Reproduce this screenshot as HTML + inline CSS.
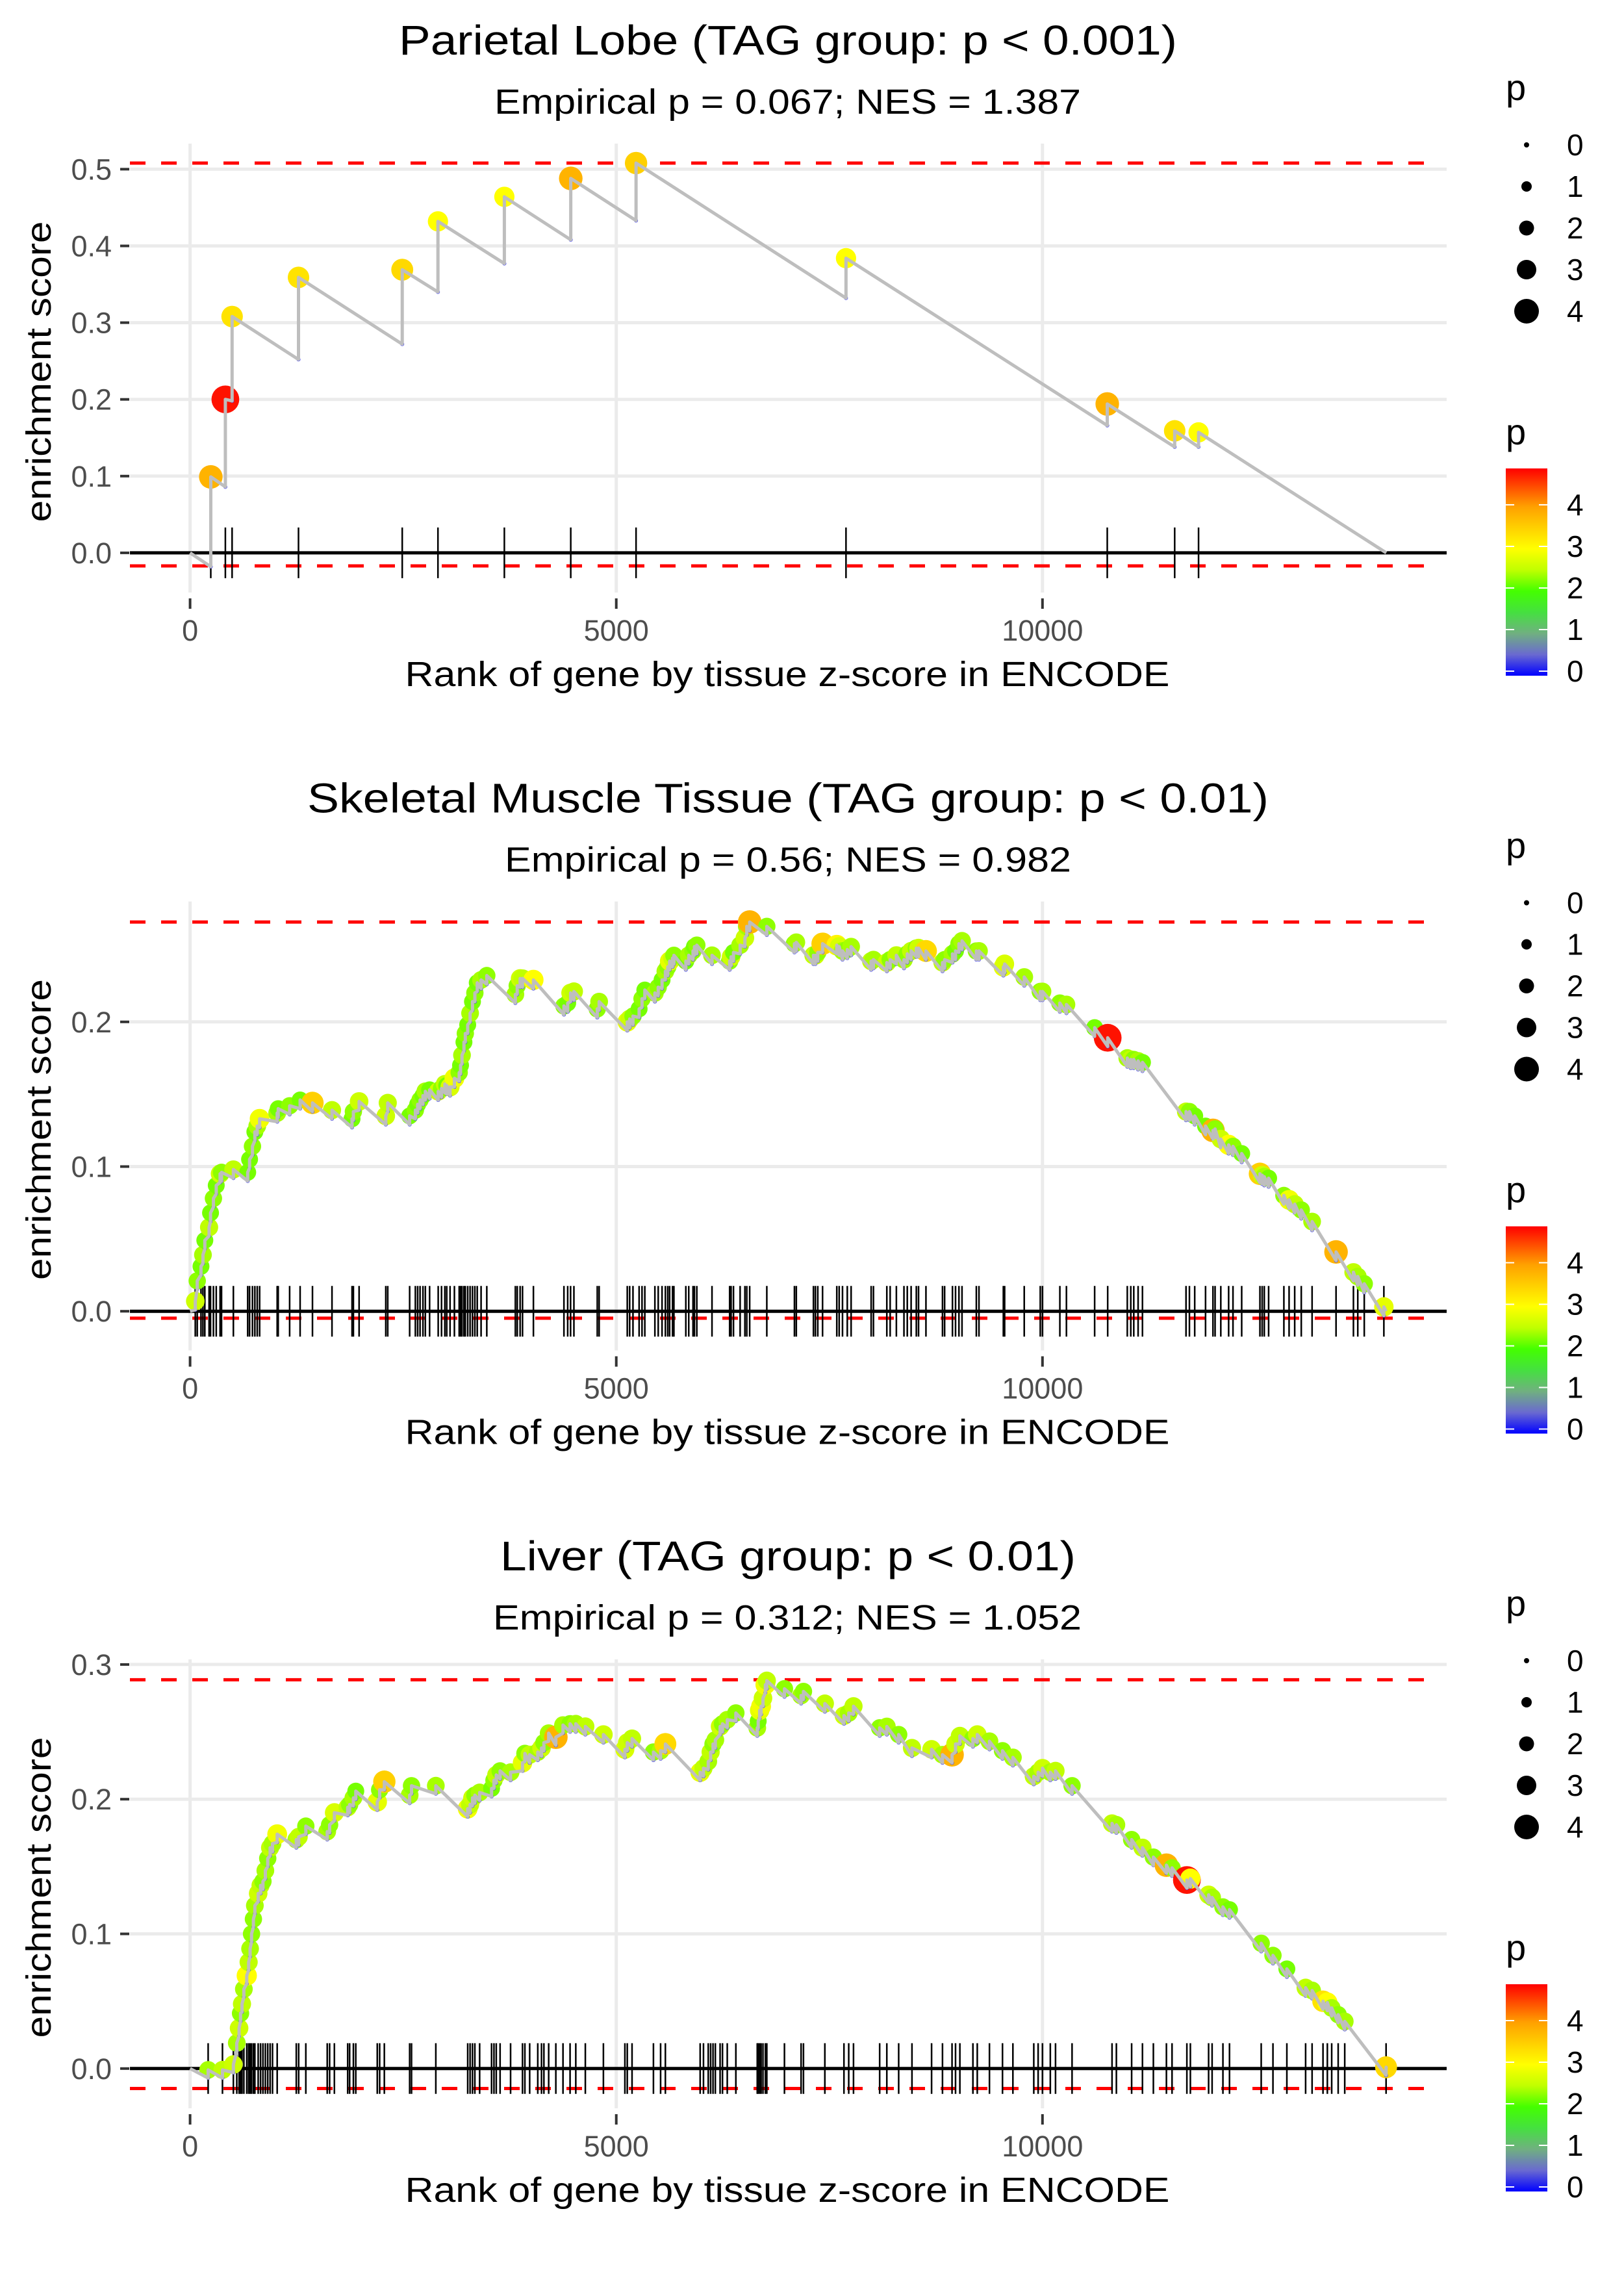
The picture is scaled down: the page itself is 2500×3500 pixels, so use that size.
<!DOCTYPE html>
<html><head><meta charset="utf-8">
<style>
html,body{margin:0;padding:0;background:#fff;}
svg{display:block;font-family:"Liberation Sans",sans-serif;}
</style></head>
<body>
<svg id="chart" xmlns="http://www.w3.org/2000/svg" width="2500" height="3500" viewBox="0 0 2500 3500">
<defs>
<linearGradient id="pgrad" x1="0" y1="1" x2="0" y2="0">
<stop offset="0" stop-color="#0000ff"/>
<stop offset="0.102" stop-color="#6a6ad0"/>
<stop offset="0.204" stop-color="#70b080"/>
<stop offset="0.306" stop-color="#45e040"/>
<stop offset="0.408" stop-color="#44ff00"/>
<stop offset="0.51" stop-color="#c0ff00"/>
<stop offset="0.612" stop-color="#ffff00"/>
<stop offset="0.714" stop-color="#ffd000"/>
<stop offset="0.816" stop-color="#ffa000"/>
<stop offset="1" stop-color="#ff0000"/>
</linearGradient>
</defs>
</svg>
<script>
// ---------- data ----------
const panelTitles = ["Parietal Lobe (TAG group: p < 0.001)","Skeletal Muscle Tissue (TAG group: p < 0.01)","Liver (TAG group: p < 0.01)"];
const panelSubtitles = ["Empirical p = 0.067; NES = 1.387","Empirical p = 0.56; NES = 0.982","Empirical p = 0.312; NES = 1.052"];
const xTicks = [0,5000,10000];
const xTickLabels = ["0","5000","10000"];
const yTicks1 = [0,0.1,0.2,0.3,0.4,0.5];
const yTicks2 = [0,0.1,0.2];
const yTicks3 = [0,0.1,0.2,0.3];
const esMax = [0.508,0.269,0.2887];
const esMin = [-0.017,-0.0048,-0.0148];
const nGenes = [14033,14030,14035];
const legendValues = [0,1,2,3,4];

const p1Rank=[243,414,493,1272,2489,2908,3687,4466,5232,7695,10760,11551,11831];
const p1Peak=[0.099,0.200,0.308,0.359,0.369,0.432,0.464,0.488,0.508,0.384,0.194,0.159,0.157];
const p1Pre=[-0.018,0.086,0.198,0.252,0.272,0.340,0.377,0.408,0.433,0.332,0.166,0.138,0.138];
const p1P=[3.8,4.8,3.3,3.3,3.4,3.0,3.0,3.8,3.5,3.0,3.8,3.3,3.0];

const p2Rank=[61,84,128,151,173,223,240,274,307,352,369,508,676,698,732,760,788,816,1022,1034,1168,1291,1436,1665,1900,1916,1983,2296,2319,2576,2643,2670,2698,2732,2760,2810,2911,2950,2989,3011,3050,3101,3157,3173,3190,3213,3229,3257,3285,3313,3341,3369,3414,3481,3816,3838,3872,3900,4028,4386,4430,4464,4503,4777,4799,5129,5157,5196,5268,5302,5335,5453,5492,5537,5576,5604,5626,5660,5676,5816,5850,5900,5917,5945,6123,6330,6347,6375,6453,6509,6531,6565,6766,7090,7112,7313,7336,7364,7420,7587,7615,7654,7710,7755,7990,8017,8174,8213,8286,8375,8414,8459,8520,8546,8633,8827,8852,8944,8980,9020,9056,9224,9255,9541,9556,9786,9974,10000,10204,10281,10612,10765,10995,11036,11071,11122,11173,11684,11724,11786,11913,12000,12025,12092,12184,12235,12337,12551,12577,12602,12653,12832,12893,12959,13036,13163,13444,13648,13699,13775,14005];
const p2Es=[0.007,0.021,0.031,0.039,0.049,0.058,0.068,0.078,0.087,0.095,0.096,0.098,0.096,0.105,0.114,0.124,0.128,0.133,0.137,0.140,0.142,0.146,0.144,0.139,0.133,0.138,0.145,0.135,0.144,0.135,0.139,0.143,0.146,0.149,0.152,0.153,0.152,0.154,0.157,0.156,0.155,0.161,0.165,0.170,0.177,0.186,0.192,0.198,0.206,0.214,0.220,0.227,0.229,0.232,0.219,0.225,0.230,0.230,0.229,0.211,0.213,0.220,0.221,0.209,0.214,0.200,0.202,0.204,0.209,0.216,0.222,0.220,0.224,0.229,0.235,0.238,0.242,0.244,0.246,0.242,0.246,0.249,0.252,0.253,0.246,0.242,0.245,0.248,0.253,0.258,0.266,0.269,0.266,0.254,0.255,0.246,0.246,0.248,0.254,0.253,0.252,0.249,0.250,0.252,0.242,0.243,0.241,0.243,0.246,0.243,0.247,0.249,0.251,0.251,0.249,0.241,0.243,0.247,0.249,0.254,0.256,0.249,0.249,0.238,0.240,0.231,0.221,0.221,0.213,0.212,0.196,0.189,0.175,0.174,0.174,0.173,0.172,0.138,0.138,0.135,0.128,0.125,0.126,0.119,0.115,0.114,0.109,0.095,0.094,0.093,0.092,0.080,0.077,0.074,0.070,0.062,0.041,0.027,0.024,0.019,0.003];
const p2P=[2.6,2.3,2.2,2.4,2.2,2.5,2.2,2.3,2.2,2.6,2.3,2.5,2.2,2.2,2.3,2.2,2.4,2.9,2.4,2.2,2.3,2.2,3.5,2.5,2.2,2.3,2.6,2.6,2.5,2.2,2.3,2.2,2.3,2.2,2.4,2.2,2.6,2.3,2.5,2.2,2.7,2.9,2.3,2.2,2.4,2.2,2.3,2.2,2.4,2.2,2.3,2.2,2.4,2.3,2.4,2.3,2.6,2.5,3.0,2.3,2.2,2.6,2.5,2.3,2.4,2.8,2.6,2.3,2.2,2.3,2.2,2.4,2.3,2.2,2.4,2.3,2.8,2.6,2.3,2.2,2.4,2.3,2.2,2.3,2.4,2.3,2.6,2.2,2.4,2.6,2.4,3.8,2.3,2.3,2.4,2.5,2.6,2.3,3.5,3.1,2.7,2.4,2.3,2.4,2.5,2.4,2.6,2.3,2.5,2.4,2.3,2.5,2.3,2.6,3.4,2.5,2.3,2.4,2.2,2.3,2.4,2.3,2.4,2.8,2.7,2.4,2.3,2.4,2.3,2.4,2.2,4.8,2.4,2.5,2.3,2.4,2.2,2.5,2.3,2.2,2.2,3.8,2.3,2.6,3.0,2.3,2.2,3.5,2.6,2.4,2.2,2.3,2.9,2.5,2.3,2.4,3.8,2.5,2.4,2.3,2.8];

const p3Rank=[212,380,508,548,575,592,609,631,665,687,704,721,743,760,799,827,855,883,911,939,967,1022,1246,1274,1358,1609,1637,1693,1849,1872,1916,1944,2196,2224,2279,2576,2598,2883,3257,3285,3313,3341,3397,3537,3565,3592,3637,3760,3900,3928,3984,4079,4123,4151,4207,4291,4375,4458,4525,4637,4849,5101,5129,5185,5436,5520,5576,5984,6023,6079,6107,6135,6162,6218,6246,6302,6403,6654,6665,6682,6699,6721,6749,6766,6973,7168,7196,7447,7671,7727,7783,8090,8174,8313,8469,8699,8827,8939,8980,9031,9184,9235,9378,9531,9653,9898,9949,10000,10092,10153,10347,10816,10867,11046,11173,11301,11454,11520,11694,11735,11949,11990,12117,12194,12566,12704,12867,13087,13163,13291,13342,13393,13469,13546,14031];
const p3Es=[-0.001,-0.001,0.003,0.019,0.030,0.041,0.048,0.059,0.069,0.079,0.089,0.100,0.111,0.121,0.130,0.136,0.139,0.147,0.156,0.164,0.167,0.174,0.170,0.172,0.180,0.176,0.181,0.190,0.194,0.196,0.201,0.206,0.198,0.207,0.213,0.203,0.210,0.210,0.193,0.196,0.201,0.203,0.205,0.208,0.214,0.218,0.221,0.220,0.227,0.234,0.233,0.235,0.238,0.242,0.249,0.246,0.255,0.256,0.256,0.254,0.248,0.237,0.242,0.245,0.235,0.236,0.241,0.220,0.223,0.228,0.235,0.241,0.244,0.254,0.256,0.259,0.264,0.253,0.258,0.266,0.269,0.275,0.285,0.288,0.282,0.277,0.280,0.271,0.262,0.264,0.269,0.253,0.254,0.248,0.238,0.237,0.233,0.233,0.241,0.247,0.245,0.248,0.243,0.236,0.231,0.217,0.220,0.223,0.220,0.221,0.210,0.182,0.181,0.170,0.164,0.157,0.151,0.149,0.140,0.141,0.129,0.127,0.120,0.118,0.093,0.084,0.074,0.060,0.058,0.050,0.049,0.045,0.040,0.035,0.001];
const p3P=[2.4,2.5,2.6,2.4,2.6,2.3,2.5,2.4,3.0,2.5,2.4,2.3,2.3,2.4,2.6,2.5,2.3,2.4,2.3,2.5,2.4,2.9,2.4,2.5,2.3,2.4,2.3,2.7,2.5,2.3,2.4,2.2,2.8,2.3,3.5,2.4,2.3,2.4,2.9,2.5,2.6,2.3,2.4,2.2,2.3,2.5,2.3,2.4,2.8,2.3,2.5,2.4,2.6,2.3,2.4,3.8,2.4,2.3,2.4,2.5,2.6,2.7,2.6,2.5,2.3,2.4,3.4,2.8,2.5,2.4,2.5,2.3,2.4,2.6,2.3,2.4,2.3,2.4,2.2,2.8,2.9,2.6,2.9,2.5,2.3,2.4,2.3,2.5,2.6,2.4,2.5,2.3,2.4,2.3,2.5,2.6,2.4,3.8,2.6,2.5,2.3,2.6,2.4,2.3,2.4,2.5,2.4,2.6,2.4,2.5,2.3,2.5,2.4,2.3,2.5,2.3,3.8,2.3,4.8,3.0,2.6,2.4,2.3,2.2,2.3,2.3,2.2,2.5,2.4,3.3,3.0,2.4,2.3,2.4,3.4];

// ---------- rendering ----------
const NS='http://www.w3.org/2000/svg';
const svg=document.getElementById('chart');
function mk(tag,attrs,parent){const e=document.createElementNS(NS,tag);for(const k in attrs)e.setAttribute(k,attrs[k]);(parent||svg).appendChild(e);return e;}
const STOPS=[[0,[0,0,255]],[0.5,[106,106,208]],[1,[112,176,128]],[1.5,[69,224,64]],[2,[68,255,0]],[2.5,[192,255,0]],[3,[255,255,0]],[3.5,[255,208,0]],[4,[255,160,0]],[4.9,[255,0,0]]];
function pColor(p){
  if(p<=0)return 'rgb(0,0,255)';
  for(let i=1;i<STOPS.length;i++){if(p<=STOPS[i][0]){const a=STOPS[i-1],b=STOPS[i];const t=(p-a[0])/(b[0]-a[0]);const c=a[1].map((v,j)=>Math.round(v+(b[1][j]-v)*t));return 'rgb('+c.join(',')+')';}}
  return 'rgb(255,0,0)';
}
function pRadius(p){return 6+3.2*p;}
const X0=292.6, XS=0.13122, PL=200, PR=2227;
function xScale(r){return X0+r*XS;}
const panelCfg=[{oy:0,y0:850.9,s:1181,ticks:yTicks1},{oy:1166.5,y0:851.7,s:2227,ticks:yTicks2},{oy:2333,y0:850.8,s:2073,ticks:yTicks3}];
const ranks=[p1Rank,p2Rank,p3Rank], peaks=[p1Peak,p2Es,p3Es], pvals=[p1P,p2P,p3P];
const JUMP=0.006;
const titleW=[[614,1812],[473,1953],[770,1656]];
const subW=[[761,1664],[777,1649],[759,1665]];

panelCfg.forEach((cfg,pi)=>{
  const g=mk('g',{});
  
  
  const oy=cfg.oy;
  const yS=v=>oy+cfg.y0-v*cfg.s;
  const t=mk('text',{x:(titleW[pi][0]+titleW[pi][1])/2,y:oy+84,'text-anchor':'middle','font-size':64,fill:'#000',textLength:titleW[pi][1]-titleW[pi][0],lengthAdjust:'spacingAndGlyphs'},g);
  t.textContent=panelTitles[pi];
  
  
  const st=mk('text',{x:(subW[pi][0]+subW[pi][1])/2,y:oy+175,'text-anchor':'middle','font-size':54,fill:'#000',textLength:subW[pi][1]-subW[pi][0],lengthAdjust:'spacingAndGlyphs'},g);
  st.textContent=panelSubtitles[pi];
  
  
  cfg.ticks.forEach(v=>{
    const gl=mk('line',{x1:PL,x2:PR,y1:yS(v),y2:yS(v),stroke:'#ebebeb','stroke-width':5},g);
    
    
  });
  xTicks.forEach(v=>{
    const gl=mk('line',{x1:xScale(v),x2:xScale(v),y1:oy+221,y2:oy+912,stroke:'#ebebeb','stroke-width':5},g);
    
    
  });
  cfg.ticks.forEach(v=>{
    const tk=mk('line',{x1:185,x2:199,y1:yS(v),y2:yS(v),stroke:'#333','stroke-width':4},g);
    
    
    const tl=mk('text',{x:172,y:yS(v)+16,'text-anchor':'end','font-size':45,fill:'#4d4d4d'},g);
    tl.textContent=v.toFixed(1);
    
    
  });
  xTicks.forEach((v,i)=>{
    const tk=mk('line',{x1:xScale(v),x2:xScale(v),y1:oy+921,y2:oy+937,stroke:'#333','stroke-width':4},g);
    
    
    const tl=mk('text',{x:xScale(v),y:oy+986,'text-anchor':'middle','font-size':45,fill:'#4d4d4d'},g);
    tl.textContent=xTickLabels[i];
    
    
  });
  const xt=mk('text',{x:1212,y:oy+1056,'text-anchor':'middle','font-size':54,fill:'#000',textLength:1177,lengthAdjust:'spacingAndGlyphs'},g);
  xt.textContent='Rank of gene by tissue z-score in ENCODE';
  
  
  const yt=mk('text',{x:0,y:0,'text-anchor':'middle','font-size':54,fill:'#000',transform:'translate(78,'+(oy+572)+') rotate(-90)',textLength:463,lengthAdjust:'spacingAndGlyphs'},g);
  yt.textContent='enrichment score';
  
  
  [esMax[pi],esMin[pi]].forEach(v=>{
    const dl=mk('line',{x1:PL,x2:2212,y1:yS(v),y2:yS(v),stroke:'#ff0000','stroke-width':5,'stroke-dasharray':'24 24'},g);
    
    
  });
  const zl=mk('line',{x1:PL,x2:PR,y1:yS(0),y2:yS(0),stroke:'#000','stroke-width':5},g);
  
  
  const R=ranks[pi], E=peaks[pi], P=pvals[pi];
  R.forEach(r=>{
    const rl=mk('line',{x1:xScale(r),x2:xScale(r),y1:yS(0)-39,y2:yS(0)+39,stroke:'#000','stroke-width':2.5},g);
    
    
  });
  const pre=R.map((r,i)=>pi===0?p1Pre[i]:E[i]-JUMP);
  R.forEach((r,i)=>{
    const c=mk('circle',{cx:xScale(r),cy:yS(E[i]),r:pRadius(P[i]),fill:pColor(P[i])},g);
    
    
    const c2=mk('circle',{cx:xScale(r),cy:yS(pre[i]),r:3,fill:'#3030ff'},g);
    
    
  });
  let d='M'+xScale(0)+','+yS(0);
  R.forEach((r,i)=>{d+=' L'+xScale(r)+','+yS(pre[i])+' L'+xScale(r)+','+yS(E[i]);});
  d+=' L'+xScale(nGenes[pi])+','+yS(0);
  const ln=mk('path',{d:d,fill:'none',stroke:'#bebebe','stroke-width':5,'stroke-linejoin':'round'},g);
  
  
  const lt=mk('text',{x:2318,y:oy+154,'font-size':56,fill:'#000'},g);
  lt.textContent='p';
  
  
  legendValues.forEach((v,i)=>{
    const yy=oy+223+i*64;
    const c=mk('circle',{cx:2350,cy:yy,r:[4,8,11.5,15,19][i],fill:'#000'},g);
    
    
    const tl=mk('text',{x:2412,y:yy+16,'font-size':46,fill:'#000'},g);
    tl.textContent=String(v);
    
    
  });
  const ct=mk('text',{x:2318,y:oy+684,'font-size':56,fill:'#000'},g);
  ct.textContent='p';
  
  
  const cb=mk('rect',{x:2318,y:oy+721,width:64,height:319,fill:'url(#pgrad)'},g);
  
  
  legendValues.forEach(v=>{
    const yy=oy+1033-v*64;
    const a=mk('line',{x1:2318,x2:2331,y1:yy,y2:yy,stroke:'#fff','stroke-width':2},g);
    
    
    const b=mk('line',{x1:2369,x2:2382,y1:yy,y2:yy,stroke:'#fff','stroke-width':2},g);
    
    
    const tl=mk('text',{x:2412,y:yy+16,'font-size':46,fill:'#000'},g);
    tl.textContent=String(v);
    
    
  });
});
</script>
</body></html>
